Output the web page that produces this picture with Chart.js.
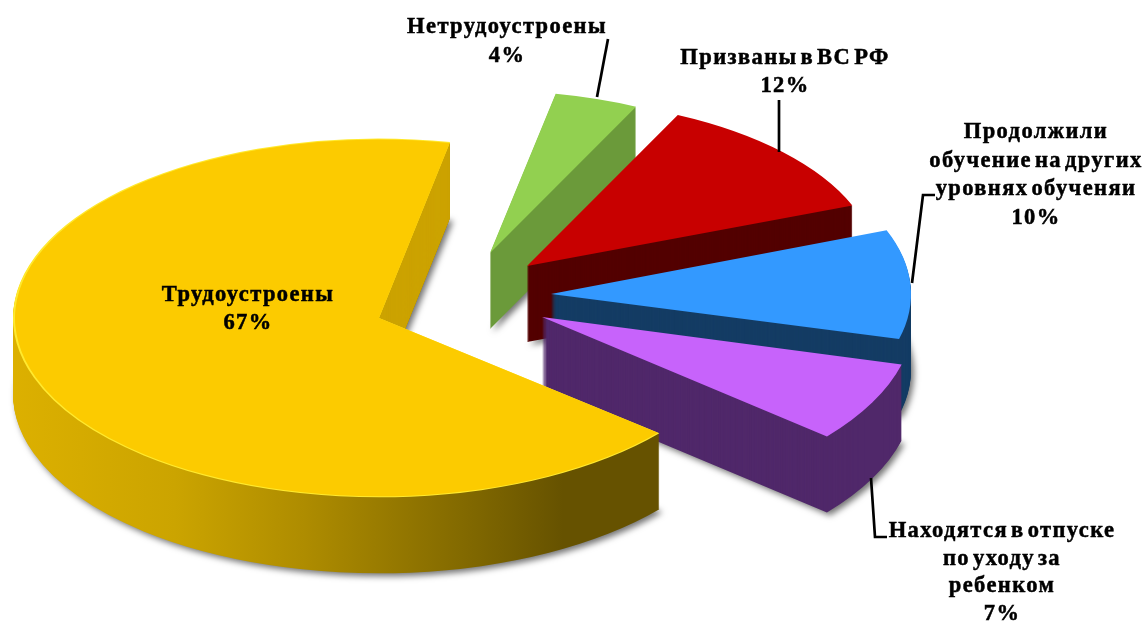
<!DOCTYPE html>
<html>
<head>
<meta charset="utf-8">
<style>
  html, body { margin: 0; padding: 0; background: #fff; }
  canvas { display: block; }
</style>
<script src="https://cdn.jsdelivr.net/npm/chart.js@4"></script>
</head>
<body>
<canvas id="pie" width="1145" height="621"></canvas>
<script>
const categories = [
  'Трудоустроены',
  'Нетрудоустроены',
  'Призваны в ВС РФ',
  'Продолжили обучение на других уровнях обученяи',
  'Находятся в отпуске по уходу за ребенком',
];
const shares = [67, 4, 12, 10, 7];

const topColors = ['#fccb00', '#92d050', '#c80000', '#3399ff', '#c763fb'];
const wallColors = ['#cca300', '#6b9a3a', '#530000', '#143c64', '#50286a'];

// where each exploded slice sits, apex in page pixels
const apexX = [379, 490, 527, 551, 542];
const apexY = [318, 253, 266, 294, 317];
const radii = [366, 338, 349, 360, 372];
const squash = [0.49, 0.48, 0.48, 0.49, 0.5];
const depth = 76;
const drawOrder = [1, 2, 3, 4, 0];

// label text broken the way the picture breaks it
const labelLines = [
  ['Трудоустроены'],
  ['Нетрудоустроены'],
  ['Призваны в ВС РФ'],
  ['Продолжили', 'обучение на других', 'уровнях обученяи'],
  ['Находятся в отпуске', 'по уходу за', 'ребенком'],
];
const labelX = [248, 507, 785, 1036, 1002];
const labelY = [301, 33, 64, 138, 537];
const labelStep = [28, 29, 28, 28.5, 27.5];

const leaders = [
  null,
  [[608, 39], [597, 97]],
  [[779, 100], [779, 152]],
  [[935, 195], [923, 195], [912, 283]],
  [[871, 478], [875, 537], [887, 537]],
];

function paint(ctx, arc, fill) {
  arc.options = { backgroundColor: fill, borderColor: 'transparent', borderWidth: 0, offset: 0, spacing: 0, circular: true, borderRadius: 0, borderAlign: 'center', borderJoinStyle: 'round' };
  arc.draw(ctx);
}

function flatten(ctx, i, arc, h) {
  ctx.translate(0, apexY[i] + h);
  ctx.scale(1, squash[i]);
  ctx.translate(0, -arc.y);
}

const pie3d = {
  id: 'pie3d',
  afterDatasetsUpdate(chart) {
    chart.getDatasetMeta(0).data.forEach(function (arc, i) {
      arc.x = apexX[i];
      arc.outerRadius = radii[i];
    });
  },
  beforeDatasetsDraw(chart) {
    const ctx = chart.ctx;
    const arcs = chart.getDatasetMeta(0).data;

    const side = ctx.createLinearGradient(14, 0, 660, 0);
    side.addColorStop(0, '#dcb000');
    side.addColorStop(0.25, '#cba400');
    side.addColorStop(0.45, '#ae8c00');
    side.addColorStop(0.72, '#7e6600');
    side.addColorStop(0.85, '#665200');
    side.addColorStop(1, '#665200');

    drawOrder.forEach(function (i) {
      const arc = arcs[i];
      const wall = i === 0 ? side : wallColors[i];

      ctx.save();
      ctx.shadowColor = 'rgba(0,0,0,0.55)';
      ctx.shadowBlur = 6;
      ctx.shadowOffsetX = 3;
      ctx.shadowOffsetY = 3;
      flatten(ctx, i, arc, depth);
      paint(ctx, arc, wall);
      ctx.restore();

      for (let h = depth - 1; h > 0; h--) {
        ctx.save();
        flatten(ctx, i, arc, h);
        paint(ctx, arc, wall);
        ctx.restore();
      }

      // back cut of the big slice is flat coloured, not part of the rim gradient
      if (i === 0) {
        ctx.save();
        ctx.beginPath();
        ctx.rect(378, 130, 90, 230);
        ctx.clip();
        for (let h = depth; h > 0; h--) {
          ctx.save();
          flatten(ctx, i, arc, h);
          paint(ctx, arc, wallColors[0]);
          ctx.restore();
        }
        ctx.restore();
      }

      ctx.save();
      flatten(ctx, i, arc, 0);
      if (i === 0) {
        paint(ctx, arc, '#ffe92e');
        arc.outerRadius -= 2;
        paint(ctx, arc, topColors[i]);
        arc.outerRadius += 2;
      } else {
        paint(ctx, arc, topColors[i]);
      }
      ctx.restore();
    });

    return false;
  },
  afterDraw(chart) {
    const ctx = chart.ctx;
    ctx.save();
    ctx.strokeStyle = '#000';
    ctx.lineWidth = 2.7;
    leaders.forEach(function (pts) {
      if (!pts) return;
      ctx.beginPath();
      pts.forEach(function (p, k) {
        if (k === 0) ctx.moveTo(p[0], p[1]);
        else ctx.lineTo(p[0], p[1]);
      });
      ctx.stroke();
    });

    ctx.fillStyle = '#000';
    ctx.textAlign = 'center';
    ctx.textBaseline = 'alphabetic';
    ctx.font = 'bold 22.5px "Liberation Serif"';
    ctx.letterSpacing = '1.4px';
    ctx.wordSpacing = '-4px';
    ctx.lineWidth = 0.5;
    labelLines.forEach(function (lines, i) {
      lines.concat(shares[i] + '%').forEach(function (line, k) {
        const y = labelY[i] + k * labelStep[i];
        ctx.fillText(line, labelX[i], y);
        ctx.strokeText(line, labelX[i], y);
      });
    });
    ctx.restore();
  },
};

new Chart(document.getElementById('pie'), {
  type: 'pie',
  data: {
    labels: categories,
    datasets: [{
      data: shares,
      backgroundColor: topColors,
      borderWidth: 0,
    }],
  },
  options: {
    responsive: false,
    animation: false,
    rotation: 130,
    plugins: {
      legend: { display: false },
      tooltip: { enabled: false },
    },
  },
  plugins: [pie3d],
});
</script>
</body>
</html>
